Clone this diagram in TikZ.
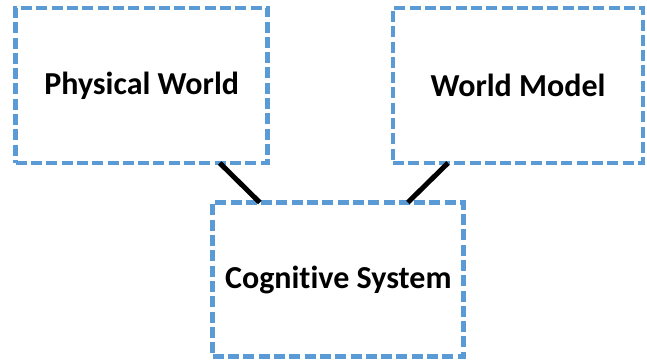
\documentclass[tikz,border=0pt]{standalone}
\usepackage{fontspec}
\setmainfont[Ligatures=NoCommon]{Carlito}
\begin{document}
\begin{tikzpicture}[x=1pt,y=-1pt,
  dashbox/.style={draw=boxblue, line width=4.8pt, dash pattern=on 11pt off 4.3pt,
    rectangle, minimum width=252pt, minimum height=155pt, inner sep=0pt, outer sep=0pt,
    font=\fontsize{32}{38}\selectfont\bfseries, text=black},
  link/.style={draw=black, line width=5pt}]
\definecolor{boxblue}{RGB}{91,155,213}
\useasboundingbox (0,0) rectangle (647,362);
% the three boxes
\node[dashbox, minimum width=252pt] (pw) at (141.7,85.5) {Physical World};
\node[dashbox, minimum width=250pt] (wm) at (518,85.5) {World Model};
\node[dashbox, minimum width=251pt, minimum height=154pt] (cs) at (338.3,279.5) {Cognitive System};
% attachment points on the borders
\coordinate (pwA) at ([xshift=-48pt]pw.south east);
\coordinate (csA) at ([xshift=47pt]cs.north west);
\coordinate (wmA) at ([xshift=55pt]wm.south west);
\coordinate (csB) at ([xshift=-56pt]cs.north east);
% connectors
\draw[link] (pwA) -- (csA);
\draw[link] (wmA) -- (csB);
\end{tikzpicture}
\end{document}
